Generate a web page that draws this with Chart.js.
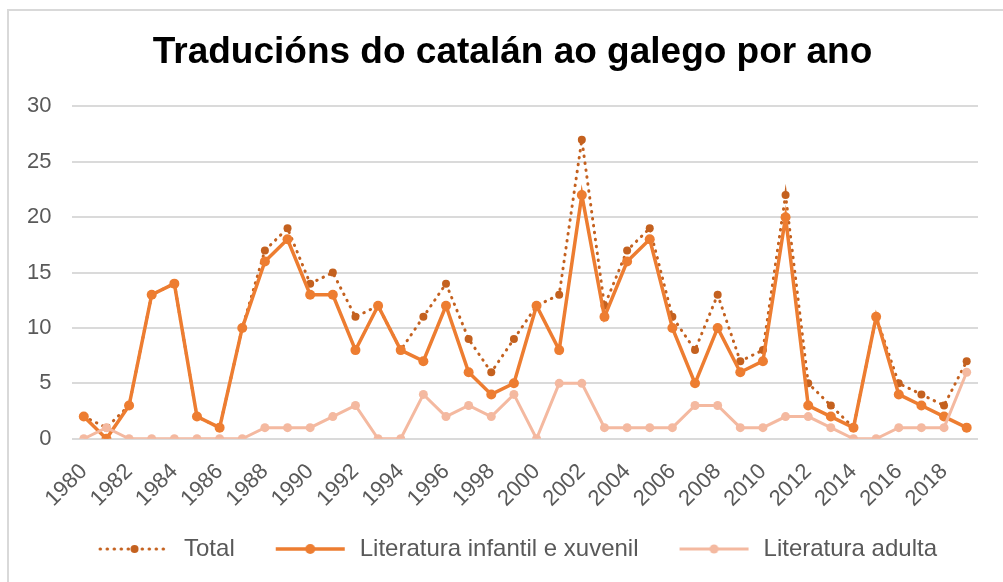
<!DOCTYPE html>
<html>
<head>
<meta charset="utf-8">
<script src="https://cdn.jsdelivr.net/npm/chart.js@4.4.1/dist/chart.umd.min.js"></script>
<style>
  html, body { margin: 0; padding: 0; background: #fff; overflow: hidden; }
  #frame { position: absolute; left: 7px; top: 9px; width: 1020px; height: 600px; border: 2px solid #D9D9D9; }
  #c { position: absolute; left: 10px; top: 12px; }
</style>
</head>
<body>
<div id="frame"></div>
<canvas id="c" width="993" height="570"></canvas>
<script>
const years = [1980, 1981, 1982, 1983, 1984, 1985, 1986, 1987, 1988, 1989,
  1990, 1991, 1992, 1993, 1994, 1995, 1996, 1997, 1998, 1999,
  2000, 2001, 2002, 2003, 2004, 2005, 2006, 2007, 2008, 2009,
  2010, 2011, 2012, 2013, 2014, 2015, 2016, 2017, 2018, 2019]
const total = [2, 1, 3, 13, 14, 2, 1, 10, 17, 19,
  14, 15, 11, 12, 8, 11, 14, 9, 6, 9,
  12, 13, 27, 12, 17, 19, 11, 8, 13, 7,
  8, 22, 5, 3, 1, 11, 5, 4, 3, 7]
const infantil = [2, 0, 3, 13, 14, 2, 1, 10, 16, 18,
  13, 13, 8, 12, 8, 7, 12, 6, 4, 5,
  12, 8, 22, 11, 16, 18, 10, 5, 10, 6,
  7, 20, 3, 2, 1, 11, 4, 3, 2, 1]
const adulta = [0, 1, 0, 0, 0, 0, 0, 0, 1, 1,
  1, 2, 3, 0, 0, 4, 2, 3, 2, 4,
  0, 5, 5, 1, 1, 1, 1, 3, 3, 1,
  1, 2, 2, 1, 0, 0, 1, 1, 1, 6]
const yTicks = [0, 5, 10, 15, 20, 25, 30]

const FONT = "'Liberation Sans', Arial, sans-serif"
const GREY = '#595959'
const SWATCH_W = 100  // legend box width, sample line sits at its right end
const TITLE_DX = 10
const LEGEND_DX = 2

// legend sample: short line with a marker in the middle, like Excel
function legendSwatch(ds) {
  const cv = document.createElement('canvas')
  cv.width = SWATCH_W
  cv.height = 14
  const ctx = cv.getContext('2d')
  const x0 = SWATCH_W - 72
  ctx.strokeStyle = ds.borderColor
  ctx.lineWidth = ds.borderWidth
  ctx.lineCap = ds.borderCapStyle || 'butt'
  ctx.setLineDash(ds.borderDash || [])
  ctx.beginPath()
  ctx.moveTo(x0, 7)
  ctx.lineTo(x0 + 69, 7)
  ctx.stroke()
  ctx.setLineDash([])
  ctx.fillStyle = ds.pointBackgroundColor
  ctx.beginPath()
  ctx.arc(x0 + 34.5, 7, ds.pointRadius, 0, Math.PI * 2)
  ctx.fill()
  return cv
}

// title and legend sit a little right of the canvas centre in the original
const shiftBoxes = {
  id: 'shiftBoxes',
  afterLayout(chart) {
    const t = chart.titleBlock
    if (t) { t.left += TITLE_DX; t.right += TITLE_DX }
    const l = chart.legend
    if (l) { l.left += LEGEND_DX; l.right += LEGEND_DX }
  }
}

const canvas = document.getElementById('c')
const chart = new Chart(canvas.getContext('2d'), {
  type: 'line',
  data: {
    labels: years,
    datasets: [
      {
        label: 'Total',
        data: total,
        borderColor: '#C4611F',
        borderWidth: 3,
        borderDash: [0.5, 6.5],
        borderCapStyle: 'round',
        pointBackgroundColor: '#C4611F',
        pointBorderWidth: 0,
        pointRadius: 4,
        tension: 0,
        order: 3
      },
      {
        label: 'Literatura infantil e xuvenil',
        data: infantil,
        borderColor: '#ED7D31',
        borderWidth: 3.5,
        pointBackgroundColor: '#ED7D31',
        pointBorderWidth: 0,
        pointRadius: 5,
        tension: 0,
        order: 2
      },
      {
        label: 'Literatura adulta',
        data: adulta,
        borderColor: '#F4B9A0',
        borderWidth: 3,
        pointBackgroundColor: '#F4B9A0',
        pointBorderWidth: 0,
        pointRadius: 4.5,
        tension: 0,
        order: 1
      }
    ]
  },
  plugins: [shiftBoxes],
  options: {
    responsive: false,
    animation: false,
    layout: { padding: { left: 17, right: 25, top: 0, bottom: 11 } },
    scales: {
      x: {
        type: 'category',
        offset: true,
        grid: { display: false },
        border: { display: false },
        ticks: {
          autoSkip: false,
          minRotation: 45,
          maxRotation: 45,
          padding: 12,
          color: GREY,
          font: { family: FONT, size: 22 },
          callback: (v, i) => (i % 2 === 0 ? String(years[i]) : '')
        }
      },
      y: {
        min: yTicks[0],
        max: yTicks[yTicks.length - 1],
        afterBuildTicks: (s) => { s.ticks = yTicks.map((v) => ({ value: v })) },
        // fit() counts the tick padding twice; drop the unused half
        afterFit: (s) => { s.width -= s.options.ticks.padding },
        border: { display: false },
        grid: { color: '#DADADA', lineWidth: 2, drawTicks: false },
        ticks: {
          padding: 21,
          color: GREY,
          font: { family: FONT, size: 22 }
        }
      }
    },
    plugins: {
      title: {
        display: true,
        text: 'Traducións do catalán ao galego por ano',
        color: '#000',
        font: { family: FONT, size: 37, weight: 'bold' },
        padding: { top: 19, bottom: 31 }
      },
      legend: {
        position: 'bottom',
        labels: {
          usePointStyle: true,
          pointStyleWidth: SWATCH_W,
          padding: 13,
          color: GREY,
          font: { family: FONT, size: 24 },
          generateLabels: (c) => {
            const items = Chart.defaults.plugins.legend.labels.generateLabels(c)
            items.forEach((it) => { it.pointStyle = legendSwatch(c.data.datasets[it.datasetIndex]) })
            return items.sort((a, b) => a.datasetIndex - b.datasetIndex)
          }
        }
      },
      tooltip: { enabled: false }
    }
  }
})
</script>
</body>
</html>
